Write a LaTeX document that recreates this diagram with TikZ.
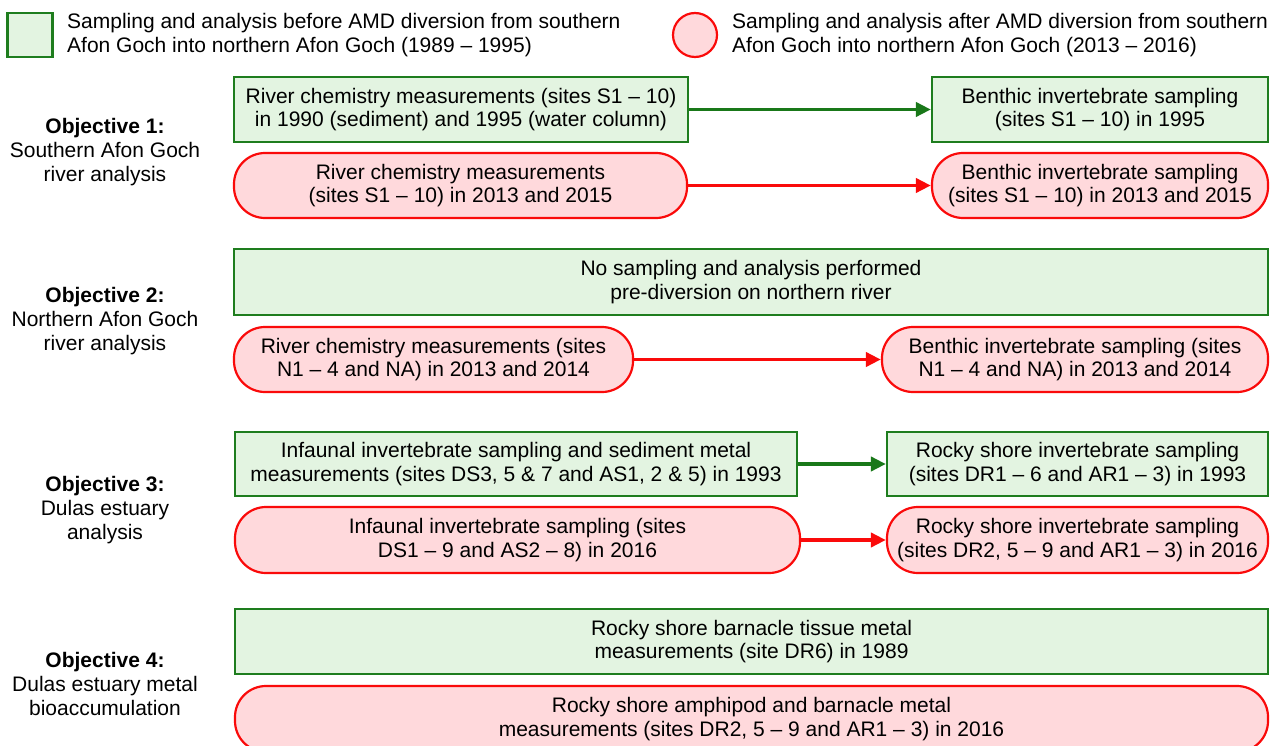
\documentclass[tikz,border=0pt]{standalone}
\usepackage{fontspec}
\setmainfont{Liberation Sans}
\usetikzlibrary{arrows.meta,shapes.geometric}
\definecolor{gstroke}{RGB}{30,125,30}
\definecolor{gfill}{RGB}{227,244,225}
\definecolor{rstroke}{RGB}{250,10,10}
\definecolor{rfill}{RGB}{255,217,220}
\definecolor{garr}{RGB}{25,120,25}
\definecolor{rarr}{RGB}{250,10,10}
\begin{document}
\begin{tikzpicture}[x=1pt,y=-1pt,
  txt/.style={font=\fontsize{21}{23.8}\selectfont, align=center, text=black, inner sep=0pt},
  gbox/.style={txt, draw=gstroke, fill=gfill, line width=2.2pt, rectangle},
  rbox/.style={txt, draw=rstroke, fill=rfill, line width=2.2pt, rectangle, rounded corners=31pt},
  garrow/.style={draw=garr, line width=3.8pt, -{Triangle[length=15pt,width=14pt]}},
  rarrow/.style={draw=rarr, line width=3.8pt, -{Triangle[length=15pt,width=14pt]}},
  objlabel/.style={txt}
]
\useasboundingbox (0,0) rectangle (1271,746);

% legend
\node[gbox, minimum width=45pt, minimum height=44pt] (leggreen) at (30,35) {};
\node[txt, anchor=west, align=left] (legtextg) at (67,35) {Sampling and analysis before AMD diversion from southern\\Afon Goch into northern Afon Goch (1989 -- 1995)};
\node[draw=rstroke, fill=rfill, line width=2.2pt, circle, minimum size=44pt, inner sep=0pt] (legred) at (695,35) {};
\node[txt, anchor=west, align=left] (legtextr) at (732,35) {Sampling and analysis after AMD diversion from southern\\Afon Goch into northern Afon Goch (2013 -- 2016)};

% objective labels
\node[objlabel] (obj1) at (105,152) {\textbf{Objective 1:}\\Southern Afon Goch\\river analysis};
\node[objlabel] (obj2) at (105,321) {\textbf{Objective 2:}\\Northern Afon Goch\\river analysis};
\node[objlabel] (obj3) at (105,510) {\textbf{Objective 3:}\\Dulas estuary\\analysis};
\node[objlabel] (obj4) at (105,684) {\textbf{Objective 4:}\\Dulas estuary metal\\bioaccumulation};

% objective 1
\node[gbox, minimum width=454pt, minimum height=65pt] (g1a) at (461,109.5) {River chemistry measurements (sites S1 -- 10)\\in 1990 (sediment) and 1995 (water column)};
\node[gbox, minimum width=336pt, minimum height=65pt] (g1b) at (1100,109.5) {Benthic invertebrate sampling\\(sites S1 -- 10) in 1995};
\node[rbox, minimum width=453pt, minimum height=65pt] (r1a) at (460.5,185.5) {River chemistry measurements\\(sites S1 -- 10) in 2013 and 2015};
\node[rbox, minimum width=336pt, minimum height=65pt] (r1b) at (1100,185.5) {Benthic invertebrate sampling\\(sites S1 -- 10) in 2013 and 2015};
\draw[garrow] (g1a) -- (g1b);
\draw[rarrow] (r1a) -- (r1b);

% objective 2
\node[gbox, minimum width=1034pt, minimum height=66pt] (g2) at (751,282) {No sampling and analysis performed\\pre-diversion on northern river};
\node[rbox, minimum width=399pt, minimum height=65pt] (r2a) at (433.5,359.5) {River chemistry measurements (sites\\N1 -- 4 and NA) in 2013 and 2014};
\node[rbox, minimum width=386pt, minimum height=65pt] (r2b) at (1075,359.5) {Benthic invertebrate sampling (sites\\N1 -- 4 and NA) in 2013 and 2014};
\draw[rarrow] (r2a) -- (r2b);

% objective 3
\node[gbox, minimum width=562pt, minimum height=64pt] (g3a) at (516,464) {Infaunal invertebrate sampling and sediment metal\\measurements (sites DS3, 5 \& 7 and AS1, 2 \& 5) in 1993};
\node[gbox, minimum width=381pt, minimum height=64pt] (g3b) at (1077.5,464) {Rocky shore invertebrate sampling\\(sites DR1 -- 6 and AR1 -- 3) in 1993};
\node[rbox, minimum width=565pt, minimum height=66pt] (r3a) at (517.5,540) {Infaunal invertebrate sampling (sites\\DS1 -- 9 and AS2 -- 8) in 2016};
\node[rbox, minimum width=381pt, minimum height=66pt] (r3b) at (1077.5,540) {Rocky shore invertebrate sampling\\(sites DR2, 5 -- 9 and AR1 -- 3) in 2016};
\draw[garrow] (g3a) -- (g3b);
\draw[rarrow] (r3a) -- (r3b);

% objective 4
\node[gbox, minimum width=1033pt, minimum height=65pt] (g4) at (751.5,641.5) {Rocky shore barnacle tissue metal\\measurements (site DR6) in 1989};
\node[rbox, minimum width=1033pt, minimum height=66pt] (r4) at (751.5,719) {Rocky shore amphipod and barnacle metal\\measurements (sites DR2, 5 -- 9 and AR1 -- 3) in 2016};
\end{tikzpicture}
\end{document}
